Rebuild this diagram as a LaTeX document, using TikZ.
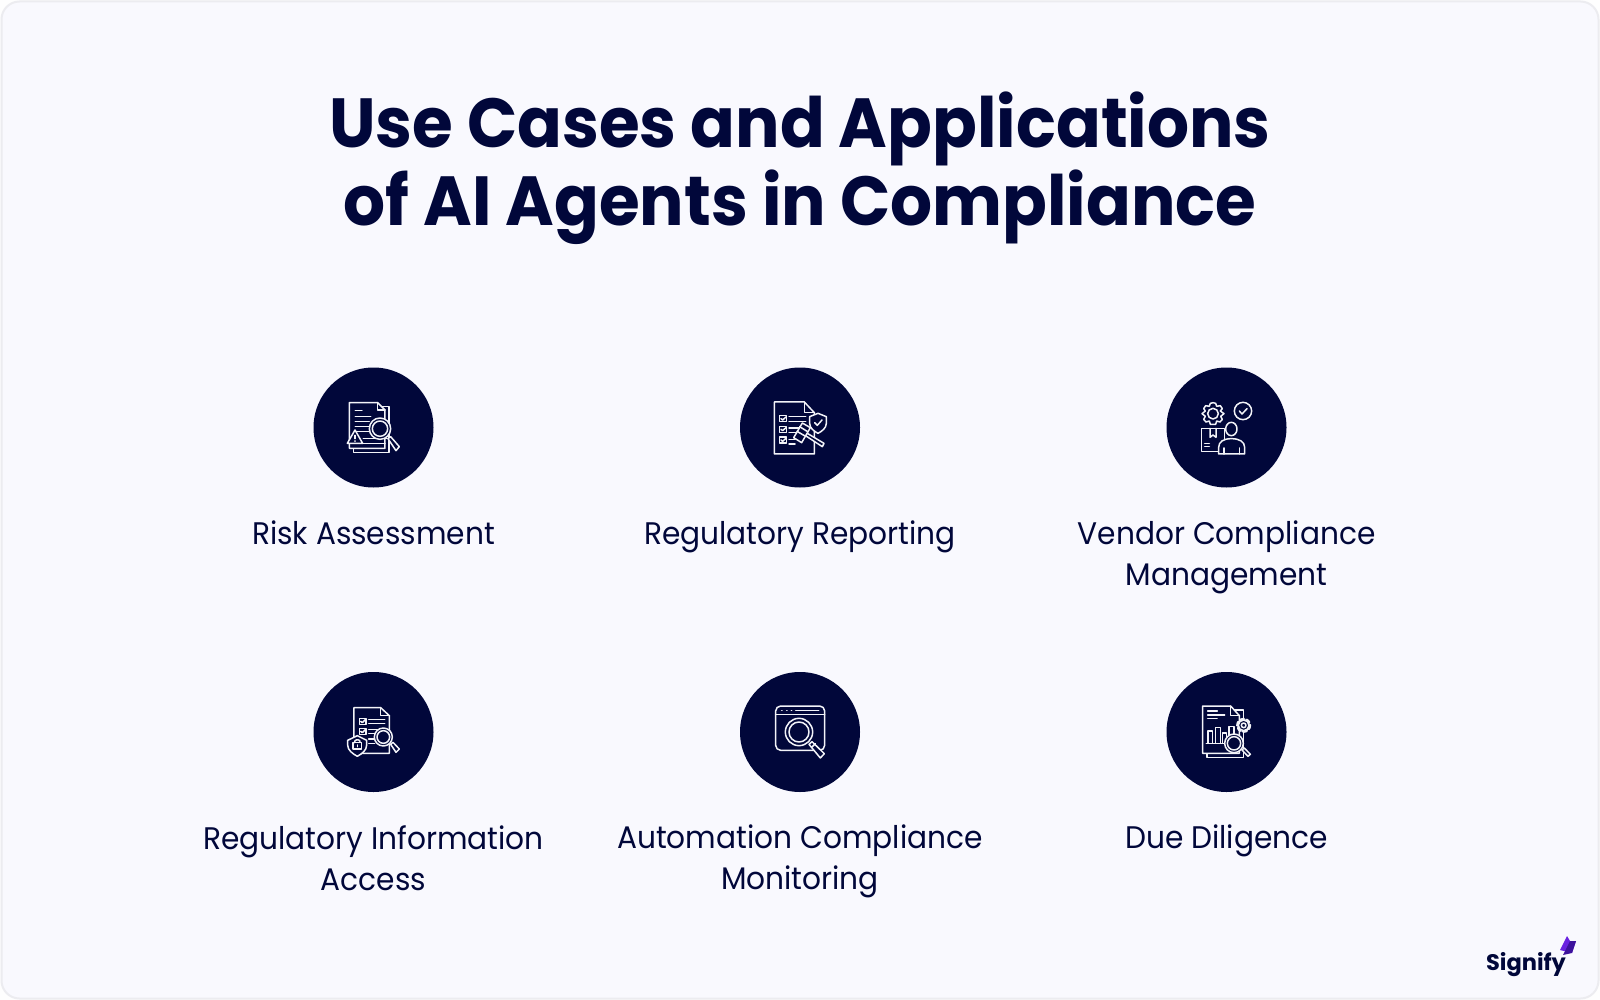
\documentclass[tikz,border=0pt]{standalone}
\usepackage{fontspec}
\setmainfont{Poppins}
\newfontfamily\titlefont[FakeStretch=0.95]{Poppins}
\newfontfamily\bodyfont[FakeStretch=0.95]{Poppins}
\definecolor{navy}{HTML}{01073A}
\definecolor{paper}{HTML}{F9F9FE}
\definecolor{edgeline}{HTML}{ECECF0}
\definecolor{iconline}{HTML}{F2F3F8}
\definecolor{markA}{HTML}{6A22E0}
\definecolor{markB}{HTML}{3D129C}
\tikzset{
  disc/.style={circle,fill=navy,draw=none,minimum size=120pt,inner sep=0pt},
  caption/.style={text=navy,align=center,anchor=north,inner sep=0pt,font=\bodyfont\fontsize{31.2}{41}\selectfont},
  heading/.style={text=navy,align=center,anchor=north,inner sep=0pt,font=\titlefont\bfseries\fontsize{69.5}{78}\selectfont},
  ic/.style={draw=iconline,line width=1.5pt,line join=round,line cap=round},
  icf/.style={ic,fill=navy},
  icon/.style={shift={#1},x=0.3333pt,y=-0.3333pt}
}
\begin{document}
\begin{tikzpicture}[x=1pt,y=-1pt]
\useasboundingbox (0,0) rectangle (1600,1000);
\fill[white!96!edgeline] (0,0) rectangle (1600,1000);
\draw[draw=edgeline,fill=paper,line width=2pt,rounded corners=18pt] (1.5,1.5) rectangle (1598.5,998.5);

\node[heading] (title) at (800,92) {Use Cases and Applications\\of AI Agents in Compliance};

\node[disc] (c1) at (373.5,427.5) {};
\node[disc] (c2) at (800,427.5) {};
\node[disc] (c3) at (1226.5,427.5) {};
\node[disc] (c4) at (373.5,732) {};
\node[disc] (c5) at (800,732) {};
\node[disc] (c6) at (1226.5,732) {};

\node[caption] (t1) at (373.5,521) {Risk Assessment};
\node[caption] (t2) at (800,521) {Regulatory Reporting};
\node[caption] (t3) at (1226.5,521) {Vendor Compliance\\Management};
\node[caption] (t4) at (373.5,825) {Regulatory Information\\Access};
\node[caption] (t5) at (800,825) {Automation Compliance\\Monitoring};
\node[caption] (t6) at (1226.5,825) {Due Diligence};

% icon 1
\begin{scope}[icon={(300,360)}]
\draw[ic] (235,140)--(267,140)--(267,278)--(160,278)--(160,262);
\draw[icf] (148,128)--(233,128)--(255,150)--(255,265)--(148,265)--cycle;
\draw[ic] (233,128)--(233,150)--(255,150);
\draw[ic] (166,151)--(186,151) (166,170)--(212,170) (166,184)--(208,184) (166,199)--(206,199) (166,214)--(206,214);
\draw[ic,line width=1.6pt] (190,236)--(262,236) (190,250)--(255,250);
\draw[icf] (165,210)--(188,250)--(142,250)--cycle;
\draw[ic] (165,226)--(165,236) (165,243)--(165,243.5);
\draw[icf] (240,206) circle (32);
\draw[ic] (240,206) circle (23);
\draw[icf] (264,236)--(272,230)--(298,260)--(288,272)--cycle;
\end{scope}

% icon 2
\begin{scope}[icon={(725,360)}]
\draw[ic] (148,126)--(238,126)--(268,158)--(268,282)--(148,282)--cycle;
\draw[ic] (238,126)--(238,158)--(268,158);
\foreach \yy in {176,208,240}{
  \draw[ic] (163,\yy-9) rectangle (184,\yy+9);
  \draw[ic] (168,\yy)--(173,\yy+4)--(183,\yy-5);
}
\draw[ic] (192,170)--(242,170) (192,184)--(242,184) (192,204)--(225,204) (192,218)--(215,218) (192,238)--(210,238) (192,252)--(210,252);
\draw[icf] (254,170)--(279,160)--(304,170)--(304,190) .. controls (304,205) and (290,214) .. (279,220) .. controls (268,214) and (254,205) .. (254,190)--cycle;
\draw[ic] (269,188)--(277,196)--(291,180);
\draw[icf] (240,226)--(247,220)--(297,250)--(292,260)--cycle;
\draw[icf] (206,233)--(232,189)--(256,203)--(230,248)--cycle;
\draw[ic] (216,214)--(240,228) (224,200)--(248,215);
\end{scope}

% icon 3
\begin{scope}[icon={(1152,360)}]
\draw[ic] (183,161) circle (16);
\draw[ic] (183,128)--(191,130)--(194,139)--(205,137)--(211,146)--(205,153)--(216,161)--(206,169)--(211,178)--(204,186)--(194,183)--(191,193)--(175,193)--(172,183)--(162,186)--(155,178)--(160,169)--(150,161)--(160,153)--(155,146)--(161,137)--(172,139)--(175,130)--cycle;
\draw[ic] (273,153) circle (26);
\draw[ic] (262,153)--(270,162)--(285,146);
\draw[ic] (217,240)--(217,205)--(148,205)--(148,274)--(200,274);
\draw[ic] (174,205)--(174,232)--(183,225)--(192,232)--(192,205);
\draw[ic] (158,250)--(172,250) (158,260)--(172,260);
\draw[ic] (238,207) ellipse (17 and 20);
\draw[icf] (200,282)--(200,262) .. controls (200,245) and (215,236) .. (238,236) .. controls (262,236) and (278,245) .. (278,262)--(278,282)--cycle;
\draw[ic] (216,282)--(216,264) (262,282)--(262,264);
\end{scope}

% icon 4
\begin{scope}[icon={(300,665)}]
\draw[ic] (162,128)--(242,128)--(268,152)--(268,265)--(162,265)--cycle;
\draw[ic] (242,128)--(242,152)--(268,152);
\foreach \yy in {169,199}{
  \draw[ic] (178,\yy-9) rectangle (198,\yy+9);
  \draw[ic] (182,\yy)--(187,\yy+4)--(196,\yy-5);
}
\draw[ic] (206,163)--(254,163) (206,176)--(254,176) (206,193)--(232,193) (206,206)--(226,206) (206,222)--(224,222) (206,236)--(224,236);
\draw[icf] (143,226)--(172,212)--(200,226)--(200,240) .. controls (200,256) and (186,266) .. (172,274) .. controls (158,266) and (143,256) .. (143,240)--cycle;
\draw[ic] (159,233) rectangle (185,252);
\draw[ic] (163,233) .. controls (163,222) and (178,222) .. (180,229);
\draw[ic] (172,240)--(172,245);
\draw[icf] (250,216) circle (27);
\draw[ic] (250,216) circle (19);
\draw[icf] (272,238)--(279,232)--(298,252)--(288,262)--cycle;
\end{scope}

% icon 5
\begin{scope}[icon={(725,665)}]
\draw[ic,rounded corners=5pt] (152,123) rectangle (299,256);
\draw[ic] (152,148)--(299,148);
\draw[ic] (170,136)--(171,136) (185,136)--(186,136) (199,136)--(200,136) (212,136)--(281,136);
\draw[icf] (222,201) circle (41);
\draw[ic] (222,201) circle (30);
\draw[icf] (252,238)--(261,230)--(298,266)--(286,279)--cycle;
\draw[ic] (261,246)--(271,236);
\end{scope}

% icon 6
\begin{scope}[icon={(1152,665)}]
\draw[ic] (240,135)--(274,135)--(274,165) (274,205)--(274,278)--(165,278)--(165,265);
\draw[icf] (152,123)--(236,123)--(262,152)--(262,265)--(152,265)--cycle;
\draw[ic] (236,123)--(236,152)--(262,152);
\draw[ic] (167,138)--(196,138) (167,150)--(218,150) (167,161)--(195,161);
\draw[ic] (168,198) rectangle (182,236);
\draw[ic] (190,188) rectangle (205,236);
\draw[ic] (211,204) rectangle (224,236);
\draw[ic] (231,184) rectangle (246,236);
\draw[ic] (163,236)--(222,236);
\draw[icf] (275,181) circle (16);
\draw[ic] (275,181) circle (7);
\draw[ic,dash pattern=on 4pt off 2.5pt,line width=2.4pt] (275,181) circle (19);
\draw[icf] (246,235) circle (28);
\draw[ic] (246,235) circle (20);
\draw[icf] (270,255)--(277,249)--(295,268)--(288,274)--cycle;
\end{scope}

% logo
\node[anchor=base,inner sep=0pt,text=navy,font=\bfseries\fontsize{22.5}{25}\selectfont] (logo) at (1526,970) {Signify};
\fill[markA] (1560,950)--(1567,936)--(1570,941)--(1576,941)--(1572,953)--cycle;
\fill[markB] (1563,955)--(1570,941)--(1576,941)--(1572,953)--cycle;
\end{tikzpicture}
\end{document}
